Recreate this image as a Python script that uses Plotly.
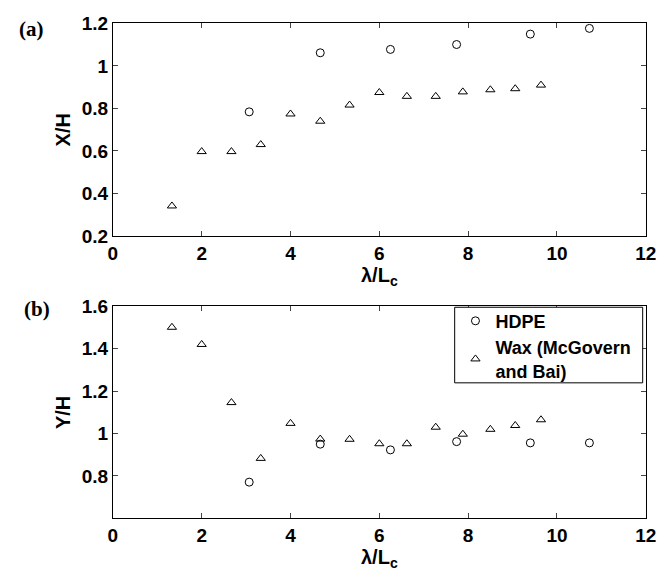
import plotly.graph_objects as go

# ---- data ----
hdpe_lam = [3.07, 4.67, 6.25, 7.74, 9.40, 10.73]
hdpe_x = [0.784, 1.062, 1.078, 1.101, 1.150, 1.177]
hdpe_y = [0.771, 0.950, 0.923, 0.962, 0.956, 0.956]

wax_lam = [1.33, 2.0, 2.67, 3.33, 4.0, 4.67, 5.33, 6.0, 6.62, 7.27, 7.88, 8.5, 9.06, 9.64]
wax_x = [0.341, 0.597, 0.597, 0.630, 0.774, 0.740, 0.816, 0.875, 0.857, 0.857, 0.878, 0.888, 0.893, 0.910]
wax_y = [1.501, 1.420, 1.146, 0.883, 1.048, 0.974, 0.973, 0.952, 0.952, 1.030, 0.997, 1.020, 1.038, 1.065]

x_ticks = [0, 2, 4, 6, 8, 10, 12]
ya_ticks = [0.2, 0.4, 0.6, 0.8, 1.0, 1.2]
yb_ticks = [0.8, 1.0, 1.2, 1.4, 1.6]

FONT = "Liberation Sans"
W, H = 669, 586

fig = go.Figure()
circ = dict(symbol="circle-open", size=8, color="black", line=dict(width=1, color="black"))
tri = dict(symbol="triangle-up-open", size=8, color="black", line=dict(width=1, color="black"))

fig.add_trace(go.Scatter(x=hdpe_lam, y=hdpe_x, mode="markers", marker=circ,
                         showlegend=False, xaxis="x", yaxis="y"))
fig.add_trace(go.Scatter(x=wax_lam, y=wax_x, mode="markers", marker=tri,
                         showlegend=False, xaxis="x", yaxis="y"))
fig.add_trace(go.Scatter(x=hdpe_lam, y=hdpe_y, mode="markers", marker=circ,
                         name="HDPE", xaxis="x2", yaxis="y2"))
fig.add_trace(go.Scatter(x=wax_lam, y=wax_y, mode="markers", marker=tri,
                         name="Wax (McGovern<br>and Bai)", xaxis="x2", yaxis="y2"))

xl, xr = 110.5 / W, 656.5 / W
def ydom(top, bot):
    return [1 - bot / H, 1 - top / H]

tickfont = dict(family=FONT, size=19, color="black", weight="bold")
titlefont = dict(family=FONT, size=20, color="black", weight="bold")
common_x = dict(range=[0, 12], tickvals=x_ticks, ticks="inside", ticklen=5,
                showline=True, linecolor="black", linewidth=1, mirror="ticks",
                showgrid=False, zeroline=False, tickfont=tickfont,
                title=dict(text="λ/L<sub>c</sub>", font=titlefont, standoff=3))
common_y = dict(ticks="inside", ticklen=5, showline=True, linecolor="black", linewidth=1,
                mirror="ticks", showgrid=False, zeroline=False, tickfont=tickfont)

fig.update_layout(
    width=W, height=H,
    margin=dict(l=0, r=0, t=0, b=0),
    paper_bgcolor="white", plot_bgcolor="white",
    font=dict(family=FONT, size=19, color="black", weight="bold"),
    xaxis=dict(domain=[xl, xr], anchor="y", **common_x),
    yaxis=dict(domain=ydom(14, 234.3), anchor="x", range=[0.2, 1.2], tickvals=ya_ticks,
               title=dict(text="X/H", font=titlefont, standoff=5), **common_y),
    xaxis2=dict(domain=[xl, xr], anchor="y2", **common_x),
    yaxis2=dict(domain=ydom(307.3, 527.3), anchor="x2", range=[0.6, 1.6], tickvals=yb_ticks,
                title=dict(text="Y/H", font=titlefont, standoff=5), **common_y),
    legend=dict(x=461.5 / W, y=1 - 303.5 / H, xanchor="left", yanchor="top",
                borderwidth=0, bgcolor="rgba(0,0,0,0)",
                font=dict(family=FONT, size=18, color="black", weight="bold"),
                itemwidth=30, tracegroupgap=0),
    shapes=[
        dict(type="rect", xref="paper", yref="paper",
             x0=460.7 / W, x1=653.3 / W, y0=1 - 386.7 / H, y1=1 - 308.3 / H,
             line=dict(color="black", width=1), fillcolor="white", layer="above"),
    ],
    annotations=[
        dict(text="<b>(a)</b>", x=12 / W, y=1 - 20 / H, xref="paper", yref="paper",
             xanchor="left", yanchor="middle", showarrow=False,
             font=dict(family="Liberation Serif", size=21, color="black")),
        dict(text="<b>(b)</b>", x=17 / W, y=1 - 310 / H, xref="paper", yref="paper",
             xanchor="left", yanchor="middle", showarrow=False,
             font=dict(family="Liberation Serif", size=21, color="black")),
    ],
)

fig.write_html("out.html")
